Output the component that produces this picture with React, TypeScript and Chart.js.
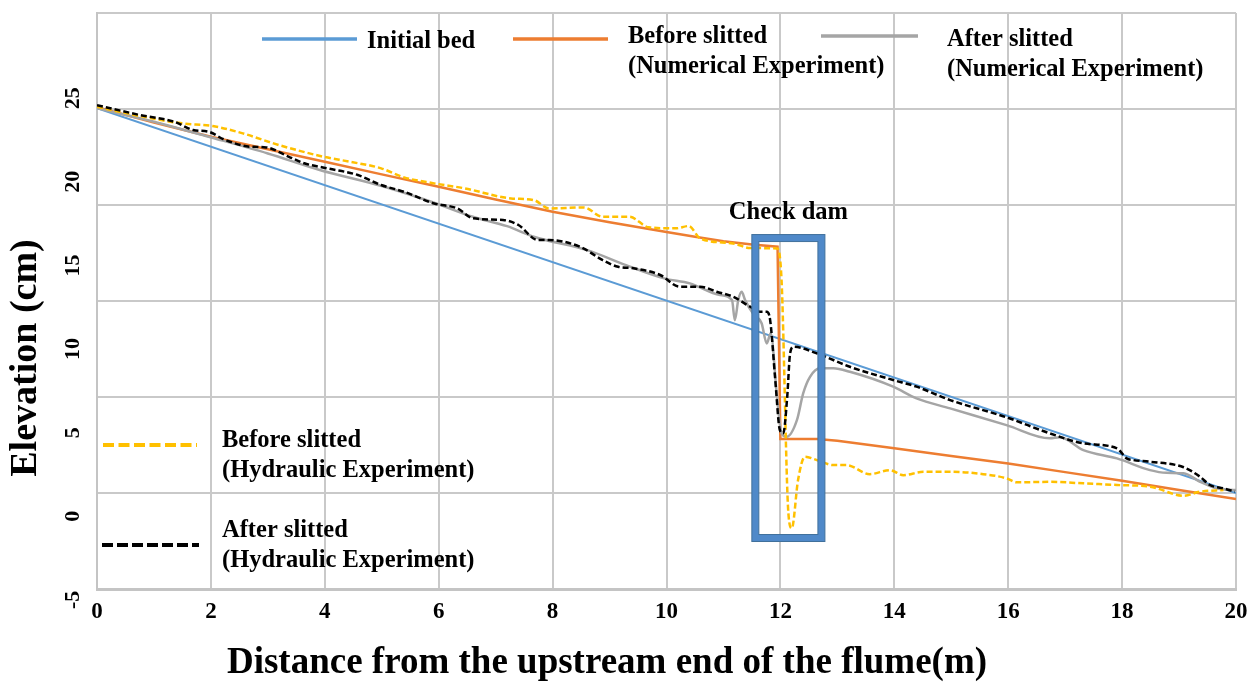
import React, { useEffect, useRef } from 'react';
import { Chart, registerables } from 'chart.js';

Chart.register(...registerables);

// ---------- data ----------
const yTickValues = [-5, 0, 5, 10, 15, 20, 25];
const xTickStep = 2;

const initialBedX = [0, 20];
const initialBedY = [24.41, 1.39];

const numBeforeX = [0, 1, 2, 3, 4, 5, 6, 7, 8, 9, 10, 10.5, 11, 11.5, 11.95, 12.0, 12.65, 13, 14, 15, 16, 17, 18, 19, 20];
const numBeforeY = [24.47, 23.55, 22.7, 21.95, 21.2, 20.45, 19.71, 18.95, 18.21, 17.58, 17.0, 16.72, 16.45, 16.25, 16.12, 4.62, 4.62, 4.51, 4.07, 3.61, 3.16, 2.64, 2.12, 1.57, 1.03];

const numAfterX = [0, 1, 1.96, 3, 3.91, 5, 5.92, 6.6, 7.2, 7.67, 8.61, 9.29, 9.96, 10.41, 10.94, 11.15, 11.2, 11.26, 11.32, 11.38, 11.52, 11.67, 11.76, 11.83, 11.94, 12.02, 12.11, 12.29, 12.4, 12.52, 12.7, 12.93, 13.22, 13.98, 14.39, 14.98, 15.97, 16.73, 16.91, 17.32, 17.91, 18.49, 18.78, 19.08, 19.37, 19.66, 20];
const numAfterY = [24.4, 23.6, 22.7, 21.7, 20.71, 19.75, 18.75, 17.91, 17.35, 16.72, 15.92, 15.02, 14.23, 13.93, 13.23, 12.93, 11.73, 12.93, 13.43, 12.93, 12.13, 11.54, 10.34, 10.94, 7.15, 4.96, 4.76, 5.75, 7.35, 8.34, 8.85, 8.85, 8.64, 7.75, 7.05, 6.45, 5.45, 4.66, 4.72, 3.96, 3.46, 2.76, 2.6, 2.57, 2.06, 1.67, 1.57];

const hydBeforeX = [0, 0.75, 1.49, 2.03, 2.56, 3.1, 3.51, 3.98, 4.45, 4.99, 5.39, 5.92, 6.46, 7.27, 7.67, 7.94, 8.55, 8.88, 9.35, 9.69, 10.16, 10.39, 10.59, 11.17, 11.47, 11.94, 12.02, 12.14, 12.2, 12.31, 12.43, 12.64, 12.93, 13.16, 13.57, 13.92, 14.16, 14.51, 14.98, 15.56, 15.97, 16.15, 16.73, 17.32, 17.91, 18.49, 19.08, 19.37, 19.78];
const hydBeforeY = [24.49, 23.94, 23.5, 23.34, 22.9, 22.3, 21.9, 21.5, 21.2, 20.81, 20.27, 19.91, 19.61, 19.01, 18.91, 18.41, 18.47, 17.91, 17.91, 17.28, 17.22, 17.36, 16.62, 16.32, 16.04, 16.02, 14.13, 0.19, -0.72, 2.17, 3.56, 3.36, 3.06, 3.06, 2.52, 2.76, 2.46, 2.66, 2.66, 2.52, 2.27, 2.03, 2.06, 1.97, 1.87, 1.77, 1.23, 1.47, 1.57];

const hydAfterX = [0, 0.75, 1.36, 1.69, 1.96, 2.23, 2.7, 2.97, 3.37, 3.64, 4.04, 4.58, 4.99, 5.39, 5.92, 6.33, 6.6, 7.13, 7.4, 7.74, 7.94, 8.48, 8.88, 9.15, 9.42, 9.89, 10.23, 10.59, 10.88, 11.17, 11.47, 11.64, 11.76, 11.82, 11.91, 11.99, 12.05, 12.12, 12.17, 12.23, 12.64, 13.22, 13.98, 14.39, 14.98, 15.97, 16.73, 17.32, 17.91, 18.08, 18.2, 18.49, 19.08, 19.37, 19.54, 19.78, 19.98];
const hydAfterY = [24.59, 24.0, 23.59, 23.1, 23.0, 22.54, 22.1, 22.06, 21.5, 21.11, 20.81, 20.41, 19.81, 19.41, 18.71, 18.41, 17.82, 17.72, 17.42, 16.52, 16.52, 16.12, 15.32, 14.92, 14.83, 14.43, 13.73, 13.73, 13.43, 13.13, 12.53, 12.23, 12.23, 11.73, 8.15, 5.16, 4.96, 7.15, 9.74, 10.14, 9.74, 8.94, 8.15, 7.75, 6.95, 5.92, 4.96, 4.36, 4.06, 3.46, 3.36, 3.26, 2.93, 2.36, 1.87, 1.67, 1.47];

const checkDamX = [11.56, 12.72];
const checkDamY = [-1.3, 16.64];

const toPoints = (xs: number[], ys: number[]) => xs.map((x, i) => ({ x, y: ys[i] }));

const SERIF = '"Liberation Serif", "Times New Roman", serif';

const customPlugin = {
  id: 'customDecor',
  afterDatasetsDraw(chart: any) {
    const { ctx, scales } = chart;
    const x = scales.x;
    const y = scales.y;
    const l = x.getPixelForValue(checkDamX[0]);
    const r = x.getPixelForValue(checkDamX[1]);
    const t = y.getPixelForValue(checkDamY[1]);
    const b = y.getPixelForValue(checkDamY[0]);
    ctx.save();
    ctx.strokeStyle = '#4f89c9';
    ctx.lineWidth = 7;
    ctx.strokeRect(l, t, r - l, b - t);
    ctx.strokeStyle = '#41719c';
    ctx.lineWidth = 1;
    ctx.strokeRect(l - 3.5, t - 3.5, r - l + 7, b - t + 7);
    ctx.strokeRect(l + 3.5, t + 3.5, r - l - 7, b - t - 7);
    ctx.fillStyle = '#000';
    ctx.font = `bold 24.5px ${SERIF}`;
    ctx.textAlign = 'center';
    ctx.textBaseline = 'alphabetic';
    ctx.fillText('Check dam', (l + r) / 2, t - 19);
    ctx.restore();
  },
  afterDraw(chart: any) {
    const { ctx } = chart;
    ctx.save();
    const line = (x1: number, x2: number, yy: number, color: string, w: number, dash: number[]) => {
      ctx.beginPath();
      ctx.setLineDash(dash);
      ctx.strokeStyle = color;
      ctx.lineWidth = w;
      ctx.moveTo(x1, yy);
      ctx.lineTo(x2, yy);
      ctx.stroke();
      ctx.setLineDash([]);
    };
    const text = (s: string, xx: number, yy: number) => {
      ctx.fillStyle = '#000';
      ctx.font = `bold 24.5px ${SERIF}`;
      ctx.textAlign = 'left';
      ctx.textBaseline = 'alphabetic';
      ctx.fillText(s, xx, yy);
    };
    // top legend
    line(262, 357, 39, '#5b9bd5', 3.5, []);
    text('Initial bed', 367, 48);
    line(513, 608, 39, '#ed7d31', 3.5, []);
    text('Before slitted', 628, 43);
    text('(Numerical Experiment)', 628, 73);
    line(821, 918, 36, '#a5a5a5', 3.5, []);
    text('After slitted', 947, 46);
    text('(Numerical Experiment)', 947, 76);
    // bottom-left legend
    line(103, 197, 445, '#ffc000', 4, [11, 4.5]);
    text('Before slitted', 222, 447);
    text('(Hydraulic Experiment)', 222, 477);
    line(102, 199, 545, '#000000', 4, [11, 4]);
    text('After slitted', 222, 537);
    text('(Hydraulic Experiment)', 222, 567);

    // axis titles
    ctx.fillStyle = '#000';
    ctx.font = `bold 37px ${SERIF}`;
    ctx.textAlign = 'center';
    ctx.textBaseline = 'alphabetic';
    ctx.fillText('Distance from the upstream end of the flume(m)', 607, 673);
    ctx.translate(36, 358);
    ctx.rotate(-Math.PI / 2);
    ctx.font = `bold 38px ${SERIF}`;
    ctx.fillText('Elevation (cm)', 0, 0);
    ctx.restore();
  },
};

export default function App() {
  const ref = useRef<HTMLCanvasElement | null>(null);
  useEffect(() => {
    document.body.style.margin = '0';
    const canvas = ref.current;
    if (!canvas) return;
    const gridColor = '#c9c9c9';
    const chart = new Chart(canvas, {
      type: 'line',
      data: {
        datasets: [
          {
            label: 'After slitted (Hydraulic Experiment)',
            data: toPoints(hydAfterX, hydAfterY),
            borderColor: '#000000',
            borderWidth: 2.5,
            borderDash: [6, 3],
            pointRadius: 0,
            cubicInterpolationMode: 'monotone',
          },
          {
            label: 'Before slitted (Hydraulic Experiment)',
            data: toPoints(hydBeforeX, hydBeforeY),
            borderColor: '#ffc000',
            borderWidth: 2.5,
            borderDash: [6, 3],
            pointRadius: 0,
            cubicInterpolationMode: 'monotone',
          },
          {
            label: 'After slitted (Numerical Experiment)',
            data: toPoints(numAfterX, numAfterY),
            borderColor: '#a5a5a5',
            borderWidth: 2.5,
            pointRadius: 0,
            cubicInterpolationMode: 'monotone',
          },
          {
            label: 'Before slitted (Numerical Experiment)',
            data: toPoints(numBeforeX, numBeforeY),
            borderColor: '#ed7d31',
            borderWidth: 2.5,
            pointRadius: 0,
            tension: 0,
          },
          {
            label: 'Initial bed',
            data: toPoints(initialBedX, initialBedY),
            borderColor: '#5b9bd5',
            borderWidth: 2,
            pointRadius: 0,
            tension: 0,
          },
        ],
      },
      options: {
        responsive: false,
        animation: false,
        devicePixelRatio: 1,
        layout: { padding: { left: 0, right: 20, top: 13, bottom: 0 } },
        plugins: { legend: { display: false }, tooltip: { enabled: false } },
        scales: {
          x: {
            type: 'linear',
            position: 'bottom',
            min: 0,
            max: 20,
            ticks: {
              stepSize: xTickStep,
              color: '#000',
              font: { family: SERIF, size: 23, weight: 'bold' },
              padding: 9,
              maxRotation: 0,
            },
            grid: { color: gridColor, lineWidth: 2, drawTicks: false },
            border: { color: '#c4c4c4', width: 3 },
            afterFit: (s: any) => { s.height = 93; s.paddingLeft = 0; s.paddingRight = 0; },
          },
          y: {
            type: 'linear',
            position: 'left',
            min: -4.35,
            max: 30.1,
            afterBuildTicks: (s: any) => { s.ticks = yTickValues.map((v) => ({ value: v })); },
            ticks: {
              color: '#000',
              font: { family: SERIF, size: 22, weight: 'bold' },
              minRotation: 90,
              maxRotation: 90,
              crossAlign: 'center',
              padding: 13,
              autoSkip: false,
            },
            grid: { display: false, drawTicks: false },
            border: { color: '#c4c4c4', width: 2 },
            afterFit: (s: any) => { s.width = 97; s.paddingTop = 0; s.paddingBottom = 0; },
          },
          y2: {
            type: 'linear',
            position: 'right',
            min: 0,
            max: 6,
            ticks: { display: false, stepSize: 1 },
            grid: { color: gridColor, lineWidth: 2, drawTicks: false },
            border: { display: false },
            afterFit: (s: any) => { s.width = 0; s.paddingTop = 0; s.paddingBottom = 0; },
          },
        },
      } as any,
      plugins: [customPlugin],
    });
    return () => chart.destroy();
  }, []);
  return (
    <div style={{ width: 1256, height: 682 }}>
      <canvas ref={ref} width={1256} height={682} />
    </div>
  );
}
